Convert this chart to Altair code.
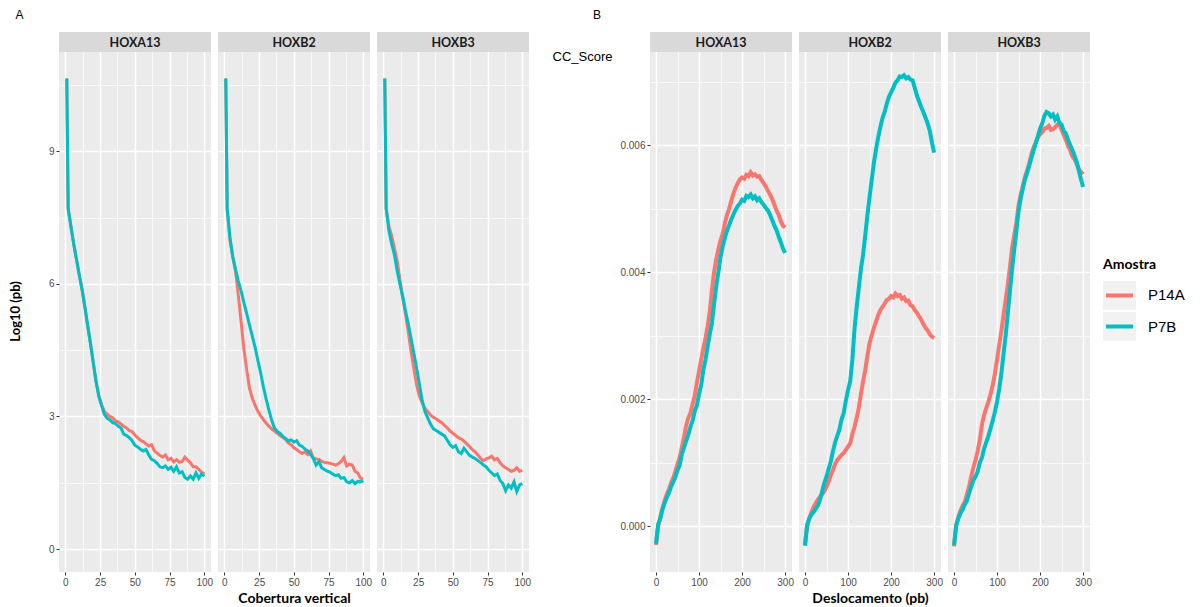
import altair as alt
import pandas as pd

GENES = ["HOXA13", "HOXB2", "HOXB3"]
SAMPLES = ["P14A", "P7B"]
COLORS = ["#F8766D", "#00BFC4"]

# ---------- Panel A : Log10 (pb) vs Cobertura vertical ----------
COV_X = [1, 2, 4, 6, 8, 10, 12, 14, 16, 18, 20, 22, 24, 26, 28, 30, 32, 34, 36, 38,
         40, 42, 44, 46, 48, 50, 52, 54, 56, 58, 60, 62, 64, 66, 68, 70, 72, 74, 76, 78,
         80, 82, 84, 86, 88, 90, 92, 94, 96, 98, 100]

COV_HOXA13_P14A = [10.65, 7.70, 7.30, 6.90, 6.55, 6.20, 5.87, 5.48, 5.06, 4.66,
                   4.23, 3.80, 3.48, 3.27, 3.12, 3.05, 3.00, 2.97, 2.90, 2.88,
                   2.83, 2.78, 2.74, 2.68, 2.66, 2.58, 2.52, 2.46, 2.43, 2.38,
                   2.33, 2.36, 2.22, 2.17, 2.12, 2.08, 2.13, 2.02, 2.05, 1.97,
                   2.02, 1.96, 1.98, 2.08, 2.01, 1.95, 1.86, 1.86, 1.80, 1.74, 1.70]
COV_HOXA13_P7B = [10.65, 7.70, 7.30, 6.90, 6.55, 6.20, 5.87, 5.48, 5.06, 4.66,
                  4.23, 3.80, 3.46, 3.25, 3.05, 2.96, 2.92, 2.86, 2.84, 2.78,
                  2.74, 2.60, 2.57, 2.52, 2.45, 2.35, 2.31, 2.26, 2.22, 2.25,
                  2.13, 2.03, 2.00, 1.94, 1.86, 1.84, 1.88, 1.80, 1.85, 1.76,
                  1.86, 1.72, 1.75, 1.62, 1.58, 1.65, 1.58, 1.72, 1.60, 1.70, 1.65]
COV_HOXB2_P14A = [10.65, 7.70, 7.00, 6.62, 6.30, 5.75, 5.16, 4.53, 4.07, 3.65,
                  3.42, 3.26, 3.12, 3.02, 2.93, 2.85, 2.78, 2.72, 2.67, 2.62,
                  2.57, 2.53, 2.48, 2.40, 2.36, 2.29, 2.25, 2.20, 2.16, 2.20,
                  2.14, 2.22, 2.06, 2.04, 2.03, 1.98, 1.96, 1.95, 1.94, 1.92,
                  1.90, 1.93, 1.98, 2.07, 1.88, 1.92, 1.90, 1.76, 1.72, 1.60, 1.58]
COV_HOXB2_P7B = [10.65, 7.70, 7.05, 6.62, 6.33, 6.07, 5.84, 5.58, 5.33, 5.08,
                 4.83, 4.58, 4.28, 4.00, 3.68, 3.40, 3.15, 2.92, 2.74, 2.66,
                 2.62, 2.55, 2.50, 2.45, 2.47, 2.42, 2.45, 2.35, 2.32, 2.26,
                 2.22, 2.14, 2.05, 1.90, 1.98, 1.84, 1.80, 1.76, 1.74, 1.70,
                 1.66, 1.68, 1.60, 1.62, 1.52, 1.50, 1.55, 1.48, 1.53, 1.52, 1.55]
COV_HOXB3_P14A = [10.65, 7.70, 7.30, 7.08, 6.80, 6.50, 6.07, 5.67, 5.30, 4.90,
                  4.46, 4.07, 3.70, 3.45, 3.30, 3.18, 3.10, 3.03, 2.98, 2.94,
                  2.90, 2.86, 2.80, 2.74, 2.67, 2.62, 2.57, 2.52, 2.49, 2.44,
                  2.38, 2.32, 2.25, 2.20, 2.13, 2.05, 2.00, 2.04, 2.06, 2.10,
                  2.02, 2.05, 1.95, 1.88, 1.84, 1.80, 1.76, 1.78, 1.84, 1.76, 1.78]
COV_HOXB3_P7B = [10.65, 7.70, 7.20, 6.90, 6.65, 6.28, 5.98, 5.70, 5.38, 5.08,
                 4.75, 4.42, 4.08, 3.72, 3.35, 3.10, 2.96, 2.82, 2.72, 2.68,
                 2.64, 2.60, 2.56, 2.46, 2.36, 2.30, 2.34, 2.20, 2.16, 2.28,
                 2.20, 2.12, 2.08, 2.05, 2.00, 1.96, 1.90, 1.86, 1.78, 1.72,
                 1.66, 1.70, 1.55, 1.48, 1.32, 1.45, 1.38, 1.52, 1.30, 1.45, 1.48]

# ---------- Panel B : CC_Score vs Deslocamento (pb) ----------
CC_X = [0, 5, 10, 15, 20, 25, 30, 35, 40, 45, 50, 55, 60, 65, 70, 75, 80, 85, 90, 95,
        100, 105, 110, 115, 120, 125, 130, 135, 140, 145, 150, 155, 160, 165, 170, 175,
        180, 185, 190, 195, 200, 205, 210, 215, 220, 225, 230, 235, 240, 245, 250, 255,
        260, 265, 270, 275, 280, 285, 290, 295, 300]

CC_HOXA13_P14A = [-0.00030, 0.00000, 0.00014, 0.00028, 0.00040, 0.00050, 0.00058, 0.00068, 0.00076, 0.00086,
                  0.00098, 0.00108, 0.00124, 0.00140, 0.00158, 0.00170, 0.00178, 0.00192, 0.00205, 0.00226,
                  0.00244, 0.00262, 0.00280, 0.00296, 0.00314, 0.00338, 0.00372, 0.00400, 0.00420, 0.00436,
                  0.00450, 0.00460, 0.00477, 0.00490, 0.00500, 0.00512, 0.00524, 0.00533, 0.00540, 0.00546,
                  0.00549, 0.00547, 0.00553, 0.00551, 0.00557, 0.00552, 0.00554, 0.00550, 0.00551, 0.00545,
                  0.00540, 0.00535, 0.00528, 0.00522, 0.00515, 0.00506, 0.00497, 0.00490, 0.00480, 0.00473,
                  0.00470]
CC_HOXA13_P7B = [-0.00028, 0.00003, 0.00012, 0.00026, 0.00036, 0.00045, 0.00052, 0.00062, 0.00069, 0.00077,
                 0.00088, 0.00096, 0.00113, 0.00123, 0.00134, 0.00144, 0.00156, 0.00166, 0.00181, 0.00190,
                 0.00208, 0.00222, 0.00246, 0.00262, 0.00283, 0.00302, 0.00320, 0.00350, 0.00378, 0.00400,
                 0.00424, 0.00440, 0.00454, 0.00465, 0.00474, 0.00483, 0.00491, 0.00498, 0.00504, 0.00508,
                 0.00514, 0.00512, 0.00520, 0.00518, 0.00522, 0.00516, 0.00519, 0.00513, 0.00516, 0.00510,
                 0.00506, 0.00501, 0.00497, 0.00490, 0.00482, 0.00473, 0.00466, 0.00456, 0.00447, 0.00437,
                 0.00430]
CC_HOXB2_P14A = [-0.00028, 0.00002, 0.00012, 0.00022, 0.00030, 0.00036, 0.00042, 0.00046, 0.00050, 0.00055,
                 0.00062, 0.00070, 0.00080, 0.00088, 0.00098, 0.00104, 0.00108, 0.00112, 0.00115, 0.00120,
                 0.00125, 0.00130, 0.00145, 0.00156, 0.00170, 0.00186, 0.00208, 0.00228, 0.00246, 0.00268,
                 0.00288, 0.00300, 0.00312, 0.00322, 0.00332, 0.00340, 0.00345, 0.00350, 0.00356, 0.00358,
                 0.00362, 0.00360, 0.00366, 0.00362, 0.00364, 0.00358, 0.00360, 0.00354, 0.00355, 0.00348,
                 0.00346, 0.00340, 0.00336, 0.00330, 0.00325, 0.00318, 0.00312, 0.00308, 0.00302, 0.00298,
                 0.00296]
CC_HOXB2_P7B = [-0.00031, 0.00001, 0.00012, 0.00018, 0.00022, 0.00027, 0.00032, 0.00042, 0.00055, 0.00068,
                0.00078, 0.00090, 0.00102, 0.00118, 0.00132, 0.00142, 0.00152, 0.00168, 0.00178, 0.00198,
                0.00214, 0.00228, 0.00262, 0.00310, 0.00345, 0.00375, 0.00405, 0.00428, 0.00458, 0.00490,
                0.00518, 0.00545, 0.00572, 0.00593, 0.00612, 0.00628, 0.00642, 0.00652, 0.00665, 0.00676,
                0.00683, 0.00690, 0.00698, 0.00702, 0.00708, 0.00707, 0.00710, 0.00705, 0.00707, 0.00703,
                0.00702, 0.00690, 0.00678, 0.00669, 0.00660, 0.00652, 0.00643, 0.00634, 0.00622, 0.00604,
                0.00588]
CC_HOXB3_P14A = [-0.00032, 0.00002, 0.00014, 0.00024, 0.00032, 0.00038, 0.00050, 0.00062, 0.00078, 0.00092,
                 0.00104, 0.00118, 0.00136, 0.00160, 0.00175, 0.00186, 0.00196, 0.00208, 0.00222, 0.00240,
                 0.00262, 0.00285, 0.00307, 0.00332, 0.00356, 0.00380, 0.00408, 0.00438, 0.00458, 0.00478,
                 0.00505, 0.00522, 0.00536, 0.00550, 0.00560, 0.00572, 0.00586, 0.00596, 0.00604, 0.00612,
                 0.00617, 0.00620, 0.00626, 0.00627, 0.00630, 0.00624, 0.00625, 0.00628, 0.00632, 0.00633,
                 0.00624, 0.00616, 0.00608, 0.00598, 0.00592, 0.00582, 0.00578, 0.00570, 0.00562, 0.00558,
                 0.00554]
CC_HOXB3_P7B = [-0.00030, 0.00000, 0.00012, 0.00020, 0.00026, 0.00034, 0.00040, 0.00052, 0.00062, 0.00072,
                0.00078, 0.00086, 0.00100, 0.00108, 0.00122, 0.00132, 0.00142, 0.00154, 0.00166, 0.00180,
                0.00196, 0.00216, 0.00240, 0.00270, 0.00300, 0.00335, 0.00370, 0.00405, 0.00436, 0.00465,
                0.00496, 0.00516, 0.00532, 0.00546, 0.00556, 0.00568, 0.00580, 0.00592, 0.00603, 0.00614,
                0.00626, 0.00634, 0.00646, 0.00652, 0.00650, 0.00645, 0.00648, 0.00640, 0.00645, 0.00635,
                0.00632, 0.00622, 0.00618, 0.00608, 0.00600, 0.00592, 0.00583, 0.00574, 0.00560, 0.00546,
                0.00534]

COV_SERIES = {
    ("HOXA13", "P14A"): COV_HOXA13_P14A, ("HOXA13", "P7B"): COV_HOXA13_P7B,
    ("HOXB2", "P14A"): COV_HOXB2_P14A, ("HOXB2", "P7B"): COV_HOXB2_P7B,
    ("HOXB3", "P14A"): COV_HOXB3_P14A, ("HOXB3", "P7B"): COV_HOXB3_P7B,
}
CC_SERIES = {
    ("HOXA13", "P14A"): CC_HOXA13_P14A, ("HOXA13", "P7B"): CC_HOXA13_P7B,
    ("HOXB2", "P14A"): CC_HOXB2_P14A, ("HOXB2", "P7B"): CC_HOXB2_P7B,
    ("HOXB3", "P14A"): CC_HOXB3_P14A, ("HOXB3", "P7B"): CC_HOXB3_P7B,
}


def long_df(xs, series):
    rows = []
    for (g, s), ys in series.items():
        for x, y in zip(xs, ys):
            rows.append({"gene": g, "Amostra": s, "x": x, "y": y})
    return pd.DataFrame(rows)


df_cov = long_df(COV_X, COV_SERIES)
df_cc = long_df(CC_X, CC_SERIES)

color_scale = alt.Scale(domain=SAMPLES, range=COLORS)
H = 540
STRIP = 20
LABEL_FONT = "Liberation Sans"
TITLE_FONT = "Lato"


def cond(test, a, b):
    return {"condition": {"test": test, "value": a}, "value": b}


def facet(df, gene, idx, W, xdom, ydom, xvals, xtest, yvals, ytest, yfmt,
          xtitle, ytitle_kw, lw, tag, tag_x):
    sub = df[df["gene"] == gene]
    xkw = dict(values=xvals, labelExpr=f"({xtest}) ? datum.label : ''",
               grid=True, gridColor="white", gridWidth=cond(xtest, 1.5, 0.7),
               tickOpacity=cond(xtest, 1, 0), tickSize=3, tickColor="#333333",
               labelColor="#4D4D4D", labelFontSize=10, labelFont=LABEL_FONT,
               labelPadding=2, labelFlush=False, labelOverlap=False, domain=False)
    if idx == 1:
        xkw.update(title=xtitle, titleFont=TITLE_FONT, titleFontWeight="bold",
                   titleFontSize=14, titleColor="black", titlePadding=4)
    else:
        xkw.update(title=None)
    ykw = dict(values=yvals, grid=True, gridColor="white",
               gridWidth=cond(ytest, 1.5, 0.7), domain=False)
    if idx == 0:
        ykw.update(labelExpr=f"({ytest}) ? datum.label : ''",
                   tickOpacity=cond(ytest, 1, 0), tickSize=3, tickColor="#333333",
                   labelColor="#4D4D4D", labelFontSize=10, labelFont=LABEL_FONT,
                   labelPadding=2, labelFlush=False, labelOverlap=False, **ytitle_kw)
        if yfmt:
            ykw.update(format=yfmt)
    else:
        ykw.update(labels=False, ticks=False, title=None)

    lines = alt.Chart(sub).mark_line(strokeWidth=lw).encode(
        x=alt.X("x:Q", scale=alt.Scale(domain=xdom, nice=False, zero=False), axis=alt.Axis(**xkw)),
        y=alt.Y("y:Q", scale=alt.Scale(domain=ydom, nice=False, zero=False), axis=alt.Axis(**ykw)),
        color=alt.Color("Amostra:N", scale=color_scale, legend=None),
    )
    gdf = pd.DataFrame({"gene": [gene]})
    strip = alt.Chart(gdf).mark_rect(color="#D9D9D9").encode(
        x=alt.value(0), x2=alt.value(W), y=alt.value(0), y2=alt.value(STRIP))
    strip_text = alt.Chart(gdf).mark_text(
        font=TITLE_FONT, fontWeight="bold", fontSize=12.5, color="#1A1A1A",
        baseline="middle", align="center").encode(
        x=alt.value(W / 2), y=alt.value(STRIP / 2 + 0.5), text="gene:N")
    layers = [lines, strip, strip_text]
    if idx == 0:
        tdf = pd.DataFrame({"t": [tag]})
        layers.append(alt.Chart(tdf).mark_text(
            font=LABEL_FONT, fontSize=12, color="black", align="center",
            baseline="middle").encode(x=alt.value(tag_x), y=alt.value(-17.5), text="t:N"))
    return alt.layer(*layers).properties(
        width=W, height=H, view=alt.ViewBackground(fill="#EBEBEB"))


# Panel A
left_facets = [
    facet(df_cov, g, i, 152, [-4.6, 104.8], [-0.52, 11.70],
          [0, 12.5, 25, 37.5, 50, 62.5, 75, 87.5, 100], "datum.value % 25 === 0",
          [0, 1.5, 3, 4.5, 6, 7.5, 9, 10.5], "datum.value % 3 === 0", None,
          "Cobertura vertical",
          dict(title="Log10 (pb)", titleFont=TITLE_FONT, titleFontWeight="bold",
               titleFontSize=13, titleColor="black", titleAngle=270,
               titleAlign="center", titleBaseline="middle", titleX=-44, titleY=279),
          3, "A", -39.5)
    for i, g in enumerate(GENES)
]

# Panel B
right_facets = [
    facet(df_cc, g, i, 142, [-14, 316], [-0.000724, 0.00778],
          [0, 50, 100, 150, 200, 250, 300], "datum.value % 100 === 0",
          [0, 0.001, 0.002, 0.003, 0.004, 0.005, 0.006, 0.007],
          "round(datum.value * 1000) % 2 === 0", ".3f",
          "Deslocamento (pb)",
          dict(title="CC_Score", titleFont=LABEL_FONT, titleFontWeight="normal",
               titleFontSize=13, titleColor="black", titleAngle=0,
               titleAlign="right", titleBaseline="middle", titleX=-38, titleY=24),
          4, "B", -53)
    for i, g in enumerate(GENES)
]

# empty spacer between the two panels
spacer = alt.Chart(pd.DataFrame({"t": [""]})).mark_text().encode(
    x=alt.value(0), y=alt.value(0), text="t:N").properties(width=106.4, height=H)

# Legend (drawn with marks to get ggplot-style key boxes)
leg_df = pd.DataFrame({"Amostra": SAMPLES})
leg_y = alt.Scale(domain=SAMPLES, range=[249, 309], paddingInner=0.065, paddingOuter=0)
leg_boxes = alt.Chart(leg_df).mark_rect(color="#F2F2F2").encode(
    y=alt.Y("Amostra:N", scale=leg_y, axis=None), x=alt.value(6), x2=alt.value(39))
leg_keys = alt.Chart(leg_df).mark_rule(strokeWidth=4).encode(
    y=alt.Y("Amostra:N", scale=leg_y, axis=None, bandPosition=0.5),
    x=alt.value(9), x2=alt.value(36),
    color=alt.Color("Amostra:N", scale=color_scale, legend=None))
leg_labels = alt.Chart(leg_df).mark_text(
    align="left", baseline="middle", fontSize=15, font=LABEL_FONT, color="black").encode(
    y=alt.Y("Amostra:N", scale=leg_y, axis=None, bandPosition=0.5),
    x=alt.value(51), text="Amostra:N")
leg_title = alt.Chart(pd.DataFrame({"t": ["Amostra"]})).mark_text(
    align="left", baseline="middle", fontSize=14, font=TITLE_FONT, fontWeight="bold",
    color="black").encode(x=alt.value(6), y=alt.value(233), text="t:N")
legend = alt.layer(leg_boxes, leg_keys, leg_labels, leg_title).properties(width=90, height=H)

chart = alt.hconcat(*left_facets, spacer, *right_facets, legend,
                    spacing=7, bounds="flush").properties(
    padding={"left": 1, "top": 0, "right": 5, "bottom": 5},
    background="white",
).configure_view(strokeWidth=0)

chart.save("out.html", embed_options={"renderer": "svg", "actions": False})
